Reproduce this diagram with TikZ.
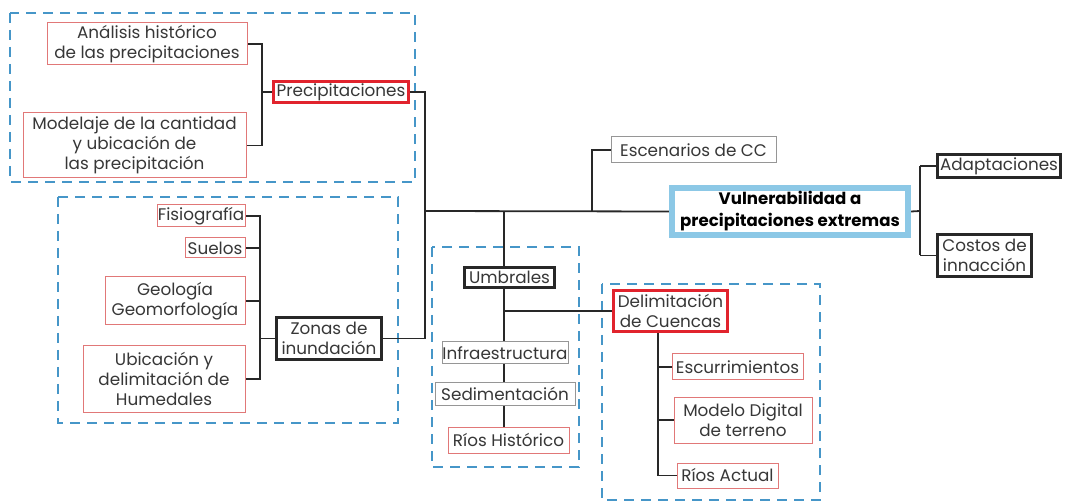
\documentclass[tikz,border=0pt]{standalone}
\usepackage{fontspec}
\setmainfont{Poppins}
\usetikzlibrary{backgrounds}
\definecolor{dashblue}{RGB}{70,150,200}
\definecolor{thinred}{RGB}{225,120,120}
\definecolor{thickred}{RGB}{225,35,45}
\definecolor{boxgray}{RGB}{150,150,150}
\definecolor{vulblue}{RGB}{140,200,230}
\definecolor{txt}{RGB}{55,55,55}
\definecolor{conn}{RGB}{40,40,40}
\tikzset{
  base/.style={inner sep=0pt, align=center, fill=white, text=txt,
    font=\fontsize{16.8}{20}\selectfont},
  redthin/.style={base, draw=thinred, line width=1pt},
  redthick/.style={base, draw=thickred, line width=3pt},
  blackthick/.style={base, draw=conn, line width=3pt},
  graybox/.style={base, draw=boxgray, line width=1pt},
  vulbox/.style={base, draw=vulblue, line width=6pt, text=black,
    font=\fontsize{16.6}{22}\selectfont\bfseries},
  group/.style={draw=dashblue, line width=1.8pt, dash pattern=on 10pt off 7pt},
  link/.style={draw=conn, line width=1.8pt}
}
\begin{document}
\begin{tikzpicture}[x=1pt,y=-1pt]
\useasboundingbox (0,0) rectangle (1068,502);
% nodes
\node[redthin, minimum width=200pt, minimum height=42pt] (ana) at (147,44) {Análisis histórico\\de las precipitaciones};
\node[redthin, minimum width=223pt, minimum height=65pt] (mod) at (134.5,145.5) {Modelaje de la cantidad\\y ubicación de\\las precipitación};
\node[redthick, minimum width=135pt, minimum height=21pt] (prec) at (341,92) {Precipitaciones};
\node[redthin, minimum width=88pt, minimum height=22pt] (fis) at (201,216) {Fisiografía};
\node[redthin, minimum width=60pt, minimum height=20pt] (sue) at (215,248) {Suelos};
\node[redthin, minimum width=140pt, minimum height=48pt] (geo) at (175,301) {Geología\\Geomorfología};
\node[redthin, minimum width=162pt, minimum height=66pt] (ubi) at (164,379) {Ubicación y\\delimitación de\\Humedales};
\node[blackthick, minimum width=105pt, minimum height=42pt] (zon) at (329,338.5) {Zonas de\\inundación};
\node[graybox, minimum width=165pt, minimum height=26pt] (esc) at (693.5,150) {Escenarios de CC};
\node[vulbox, minimum width=236pt, minimum height=47pt] (vul) at (790,211.5) {Vulnerabilidad a\\precipitaciones extremas};
\node[blackthick, minimum width=123pt, minimum height=23pt] (ada) at (999,166) {Adaptaciones};
\node[blackthick, minimum width=94pt, minimum height=42pt] (cos) at (984.5,255.5) {Costos de\\innacción};
\node[blackthick, minimum width=90pt, minimum height=20pt] (umb) at (509.5,277.5) {Umbrales};
\node[redthick, minimum width=114pt, minimum height=41pt] (del) at (670.5,311) {Delimitación\\de Cuencas};
\node[graybox, minimum width=126pt, minimum height=22pt] (inf) at (505,353) {Infraestructura};
\node[graybox, minimum width=140pt, minimum height=22pt] (sed) at (505,394) {Sedimentación};
\node[redthin, minimum width=121pt, minimum height=26pt] (rh) at (508.5,440) {Ríos Histórico};
\node[redthin, minimum width=131pt, minimum height=26pt] (escu) at (737.5,367) {Escurrimientos};
\node[redthin, minimum width=138pt, minimum height=46pt] (mdt) at (743,420) {Modelo Digital\\de terreno};
\node[redthin, minimum width=101pt, minimum height=25pt] (ra) at (727.5,475.5) {Ríos Actual};
% junction coordinates
\coordinate (b1) at (262,92);
\coordinate (j1) at (425,211);
\coordinate (b2) at (260,338);
\coordinate (j2) at (504,211);
\coordinate (j3) at (592,211);
\coordinate (b4) at (658,333);
\coordinate (b5) at (920,211);
\begin{scope}[on background layer]
% groups
\draw[group] (10,13) rectangle (415,182);
\draw[group] (58,197) rectangle (398,423);
\draw[group] (432,247) rectangle (579,467);
\draw[group] (602,284) rectangle (820,500);
% connectors
\draw[link] (ana.east) -- (ana.east -| b1) -- (mod.east -| b1) -- (mod.east);
\draw[link] (b1) -- (prec.west);
\draw[link] (prec.east) -- (prec.east -| j1) -- (zon.east -| j1) -- (zon.east);
\draw[link] (j1) -- (vul.west);
\draw[link] (fis.east) -- (fis.east -| b2) -- (ubi.east -| b2) -- (ubi.east);
\draw[link] (sue.east) -- (sue.east -| b2);
\draw[link] (geo.east) -- (geo.east -| b2);
\draw[link] (b2 |- zon.west) -- (zon.west);
\draw[link] (j3) |- (esc.west);
\draw[link] (j2) -- (j2 |- rh.north);
\draw[link] (j2 |- del.west) -- (del.west);
\draw[link] (b4 |- del.south) -- (b4 |- ra.west) -- (ra.west);
\draw[link] (b4 |- escu.west) -- (escu.west);
\draw[link] (b4 |- mdt.west) -- (mdt.west);
\draw[link] (vul.east) -- (b5);
\draw[link] (ada.west -| b5) -- (cos.west -| b5);
\draw[link] (ada.west -| b5) -- (ada.west);
\draw[link] (cos.west -| b5) -- (cos.west);
\end{scope}
\end{tikzpicture}
\end{document}
